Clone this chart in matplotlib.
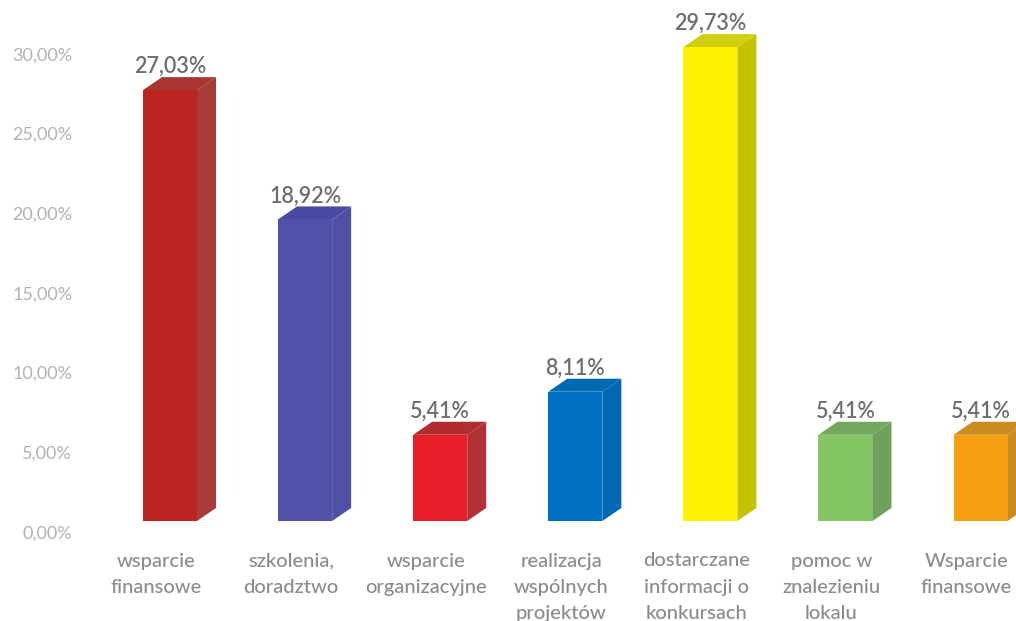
import matplotlib
matplotlib.use("Agg")
import matplotlib.pyplot as plt
from matplotlib.patches import Polygon
from matplotlib.transforms import ScaledTranslation

categorias = ["wsparcie\nfinansowe", "szkolenia,\ndoradztwo", "wsparcie\norganizacyjne",
              "realizacja\nwspólnych\nprojektów", "dostarczane\ninformacji o\nkonkursach",
              "pomoc w\nznalezieniu\nlokalu", "Wsparcie\nfinansowe"]
valores = [27.03, 18.92, 5.41, 8.11, 29.73, 5.41, 5.41]
etiquetas = ["27,03%", "18,92%", "5,41%", "8,11%", "29,73%", "5,41%", "5,41%"]
marcas_y = [0, 5, 10, 15, 20, 25, 30]
etiquetas_y = ["0,00%", "5,00%", "10,00%", "15,00%", "20,00%", "25,00%", "30,00%"]

color_frente = ["#bd2320", "#5151a9", "#e71f28", "#0070c2", "#fff200", "#84c566", "#f5a011"]
color_lado = ["#a63b37", "#4f4fa6", "#b03235", "#0069b2", "#c3c300", "#6fa05d", "#c98b22"]
color_arriba = ["#a83530", "#4a4aa2", "#b02c2e", "#0069b2", "#cfcf10", "#74a85c", "#cc8c22"]

# Escalas en pixeles de la imagen original
W, H = 1016, 621
PX_CAT = 135.1     # separacion entre categorias
PX_VAL = 15.94     # pixeles por cada 1%
X0, Y0 = 170, 521  # centro de la primera barra y su base
IZQ, ABAJO = 75, 540
ANCHO = 0.2        # mitad del frente de la barra, en categorias
FONDO_X = 19 / PX_CAT
FONDO_Y = 13 / PX_VAL

plt.rcParams["font.family"] = ["Lato", "DejaVu Sans"]

fig = plt.figure(figsize=(W / 100, H / 100), dpi=100)
ax = fig.add_axes([IZQ / W, (H - ABAJO) / H, (W - IZQ) / W, ABAJO / H])
ax.set_xlim((IZQ - X0) / PX_CAT, (W - X0) / PX_CAT)
ax.set_ylim((Y0 - ABAJO) / PX_VAL, Y0 / PX_VAL)

posiciones = list(range(len(valores)))
ax.bar(posiciones, valores, width=2 * ANCHO, color=color_frente, zorder=3)

# Caras lateral y superior de cada barra
for i, v in enumerate(valores):
    der = i + ANCHO
    izq = i - ANCHO
    ax.add_patch(Polygon([(der, 0), (der + FONDO_X, FONDO_Y), (der + FONDO_X, v + FONDO_Y), (der, v)],
                         facecolor=color_lado[i], zorder=2))
    ax.add_patch(Polygon([(izq, v), (izq + FONDO_X, v + FONDO_Y), (der + FONDO_X, v + FONDO_Y), (der, v)],
                         facecolor=color_arriba[i], zorder=2))
    ax.annotate(etiquetas[i], (i, v + FONDO_Y), xytext=(0, 0), textcoords="offset points",
                ha="center", va="bottom", fontsize=15.5, color="#6e6e6e", fontweight="semibold",
                annotation_clip=False, zorder=4)

for lado in ax.spines.values():
    lado.set_visible(False)

ax.set_yticks(marcas_y)
ax.set_yticklabels(etiquetas_y, fontsize=13, color="#b2b2b2", fontweight="normal")
ax.tick_params(axis="y", length=0, pad=2)

ax.set_xticks(posiciones)
ax.set_xticklabels(categorias, fontsize=14.5, color="#8b8b8b", linespacing=1.65, fontweight="medium")
ax.tick_params(axis="x", length=0, pad=9)

# Las etiquetas del eje quedan 11 px debajo de la base (efecto 3D)
desplazar_y = ScaledTranslation(0, -11 / 100, fig.dpi_scale_trans)
for et in ax.get_yticklabels():
    et.set_transform(et.get_transform() + desplazar_y)
desplazar_x = ScaledTranslation(-14 / 100, 0, fig.dpi_scale_trans)
for et in ax.get_xticklabels():
    et.set_transform(et.get_transform() + desplazar_x)

fig.savefig("out.png", dpi=100)
